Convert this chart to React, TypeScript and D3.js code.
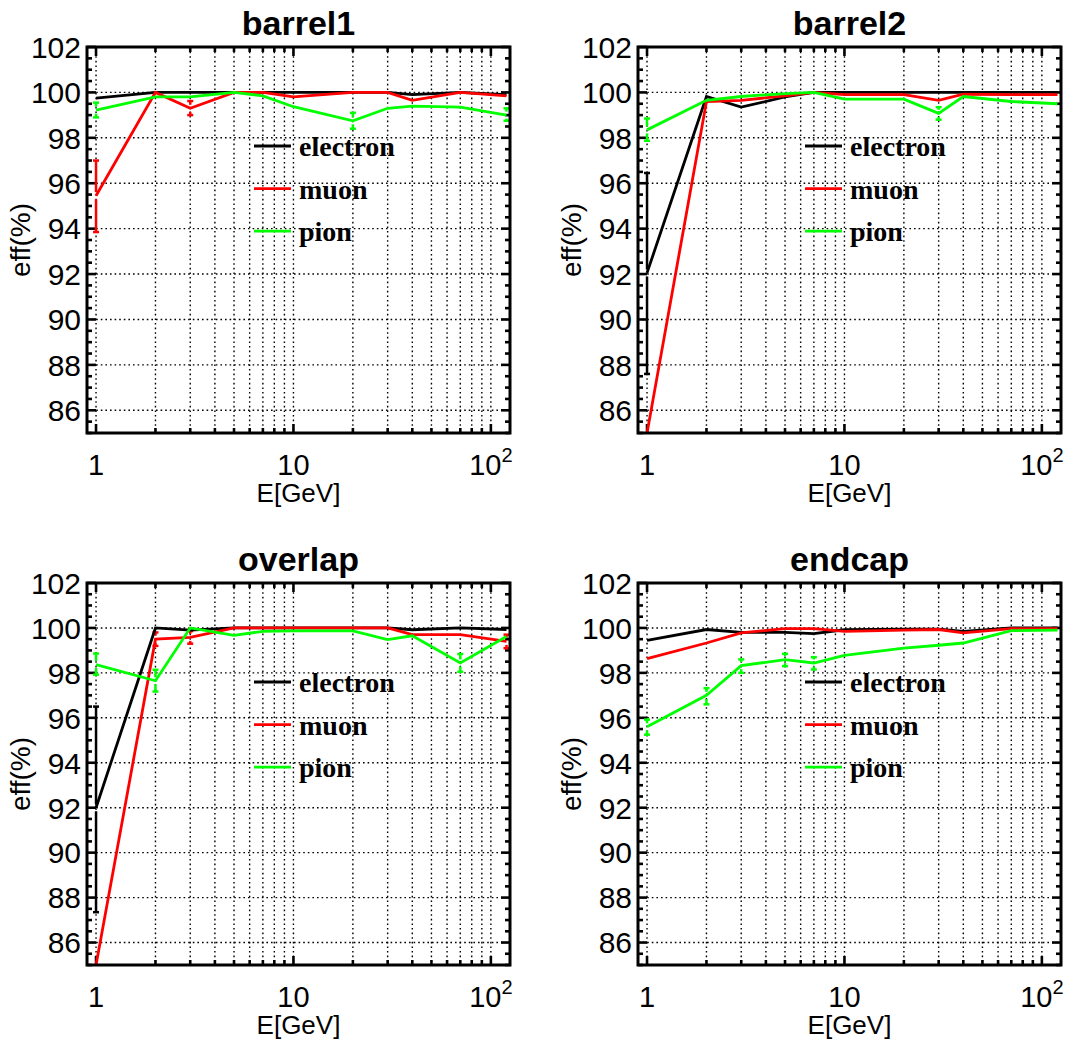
import React from 'react';
import * as d3 from 'd3';

const energies = [1, 2, 3, 5, 7, 10, 20, 30, 40, 70, 120];
const yTickValues = [86, 88, 90, 92, 94, 96, 98, 100, 102];
const xTickLabels = [
  { v: 1, base: '1', sup: '' },
  { v: 10, base: '10', sup: '' },
  { v: 100, base: '10', sup: '2' },
];
const seriesNames = ['electron', 'muon', 'pion'];
const seriesColors = ['#000000', '#ff0000', '#00ff00'];

const barrel1Electron = [99.75, 100, 100, 100, 100, 100, 100, 100, 99.9, 100, 99.9];
const barrel1Muon = [95.45, 100, 99.3, 100, 100, 99.8, 100, 100, 99.65, 100, 99.85];
const barrel1Pion = [99.22, 99.8, 99.8, 100, 99.85, 99.37, 98.75, 99.3, 99.4, 99.35, 99.0];
const barrel1Errors = [
  { s: 1, e: 1, lo: 93.85, hi: 97.0 },
  { s: 2, e: 1, lo: 98.9, hi: 99.55 },
  { s: 1, e: 3, lo: 99.0, hi: 99.62 },
  { s: 2, e: 20, lo: 98.4, hi: 99.1 },
  { s: 2, e: 120, lo: 98.75, hi: 99.3 },
];

const barrel2Electron = [92.05, 99.82, 99.35, 99.8, 100, 100, 100, 100, 100, 100, 100];
const barrel2Muon = [85.0, 99.6, 99.65, 99.85, 100, 99.9, 99.9, 99.65, 99.92, 99.9, 99.9];
const barrel2Pion = [98.35, 99.65, 99.82, 99.95, 100, 99.7, 99.7, 99.08, 99.82, 99.6, 99.5];
const barrel2Errors = [
  { s: 0, e: 1, lo: 87.6, hi: 96.45 },
  { s: 2, e: 1, lo: 97.87, hi: 98.85 },
  { s: 2, e: 30, lo: 98.8, hi: 99.35 },
];

const overlapElectron = [92.0, 100, 99.9, 100, 100, 100, 100, 100, 99.92, 100, 99.93];
const overlapMuon = [85.0, 99.5, 99.58, 100, 100, 100, 100, 100, 99.7, 99.7, 99.4];
const overlapPion = [98.37, 97.65, 100, 99.67, 99.85, 99.87, 99.87, 99.48, 99.65, 98.44, 99.62];
const overlapErrors = [
  { s: 0, e: 1, lo: 87.35, hi: 96.5 },
  { s: 2, e: 1, lo: 97.92, hi: 98.86 },
  { s: 2, e: 2, lo: 97.17, hi: 98.14 },
  { s: 1, e: 2, lo: 99.2, hi: 99.8 },
  { s: 1, e: 3, lo: 99.3, hi: 99.86 },
  { s: 2, e: 70, lo: 98.05, hi: 98.84 },
  { s: 1, e: 120, lo: 99.1, hi: 99.7 },
];

const endcapElectron = [99.45, 99.93, 99.8, 99.8, 99.75, 99.92, 99.95, 99.95, 99.85, 100, 100];
const endcapMuon = [98.63, 99.33, 99.78, 99.97, 99.97, 99.85, 99.9, 99.93, 99.78, 99.97, 99.97];
const endcapPion = [95.6, 97.0, 98.32, 98.59, 98.44, 98.78, 99.1, 99.23, 99.33, 99.88, 99.9];
const endcapErrors = [
  { s: 2, e: 1, lo: 95.25, hi: 95.92 },
  { s: 2, e: 2, lo: 96.6, hi: 97.32 },
  { s: 2, e: 3, lo: 98.0, hi: 98.6 },
  { s: 2, e: 5, lo: 98.3, hi: 98.85 },
  { s: 2, e: 7, lo: 98.15, hi: 98.7 },
];

const SANS = '"Liberation Sans", Arial, sans-serif';
const SERIF = '"Liberation Serif", "Times New Roman", serif';

type Err = { s: number; e: number; lo: number; hi: number };

function Panel(props: {
  id: string;
  title: string;
  left: number;
  top: number;
  height: number;
  series: number[][];
  errors: Err[];
}) {
  const { id, title, left, top, height, series, errors } = props;
  const width = 423;
  const x = d3.scaleLog().domain([0.9, 125]).range([left, left + width]);
  const y = d3.scaleLinear().domain([85, 102]).range([top + height, top]);
  const bottom = top + height;
  const right = left + width;
  const xGrid = x.ticks().filter((t) => t >= 1 && t <= 100);
  const isMajorX = (t: number) => t === 1 || t === 10 || t === 100;
  const yMinor = d3.range(85, 102.01, 0.5);
  const gridY = yTickValues.filter((v) => v < 102);
  const line = d3
    .line<number>()
    .x((_, i) => x(energies[i]))
    .y((d) => y(d));
  const clipId = `clip-${id}`;
  const legendX = left + 167;
  const legendY = top + 99;

  return (
    <g>
      <defs>
        <clipPath id={clipId}>
          <rect x={left} y={top} width={width} height={height} />
        </clipPath>
      </defs>
      {xGrid.map((t) => (
        <line key={`gx${t}`} x1={x(t)} x2={x(t)} y1={top} y2={bottom} stroke="#000" strokeWidth={1.4} strokeDasharray="1.6 3" />
      ))}
      {gridY.map((v) => (
        <line key={`gy${v}`} x1={left} x2={right} y1={y(v)} y2={y(v)} stroke="#000" strokeWidth={1.4} strokeDasharray="1.6 3" />
      ))}
      {xGrid.map((t) => {
        const len = isMajorX(t) ? 9 : 5;
        return (
          <g key={`tx${t}`}>
            <line x1={x(t)} x2={x(t)} y1={bottom} y2={bottom - len} stroke="#000" strokeWidth={2.6} />
            <line x1={x(t)} x2={x(t)} y1={top} y2={top + len} stroke="#000" strokeWidth={2.6} />
          </g>
        );
      })}
      {yMinor.map((v) => {
        const major = Math.abs(v % 2) < 1e-6;
        const len = major ? 9 : 5;
        return (
          <g key={`ty${v}`}>
            <line x1={left} x2={left + len} y1={y(v)} y2={y(v)} stroke="#000" strokeWidth={2.6} />
            <line x1={right} x2={right - len} y1={y(v)} y2={y(v)} stroke="#000" strokeWidth={2.6} />
          </g>
        );
      })}
      <g clipPath={`url(#${clipId})`}>
        {errors.map((er, i) => {
          const si = energies.indexOf(er.e);
          const v = series[er.s][si];
          const cx = x(er.e);
          const gap = 3.5;
          const yHi = y(er.hi);
          const yLo = y(er.lo);
          const yv = y(v);
          const col = seriesColors[er.s];
          return (
            <g key={`er${i}`} stroke={col} strokeWidth={2.5}>
              {yv - gap > yHi && <line x1={cx} x2={cx} y1={yHi} y2={yv - gap} />}
              {yv + gap < yLo && <line x1={cx} x2={cx} y1={yv + gap} y2={yLo} />}
              <line x1={cx - 3} x2={cx + 3} y1={yHi} y2={yHi} />
              <line x1={cx - 3} x2={cx + 3} y1={yLo} y2={yLo} />
            </g>
          );
        })}
        {series.map((s, i) => (
          <path key={`s${i}`} d={line(s) || ''} fill="none" stroke={seriesColors[i]} strokeWidth={2.8} strokeLinejoin="miter" />
        ))}
      </g>
      <rect x={left} y={top} width={width} height={height} fill="none" stroke="#000" strokeWidth={3} />
      {yTickValues.map((v) => (
        <text key={`yl${v}`} x={left - 6} y={y(v)} dy="0.36em" textAnchor="end" fontFamily={SANS} fontSize={30}>
          {v}
        </text>
      ))}
      {xTickLabels.map((t) => (
        <text key={`xl${t.v}`} x={x(t.v)} y={bottom + 42} textAnchor="middle" fontFamily={SANS} fontSize={29}>
          {t.base}
          {t.sup && (
            <tspan dy={-13} fontSize={20}>
              {t.sup}
            </tspan>
          )}
        </text>
      ))}
      <text x={(left + right) / 2} y={bottom + 69} textAnchor="middle" fontFamily={SANS} fontSize={26}>
        E[GeV]
      </text>
      <text
        transform={`translate(${left - 57},${(top + bottom) / 2}) rotate(-90)`}
        textAnchor="middle"
        fontFamily={SANS}
        fontSize={28}
      >
        eff(%)
      </text>
      <text x={(left + right) / 2} y={top - 12} textAnchor="middle" fontFamily={SANS} fontWeight="bold" fontSize={34}>
        {title}
      </text>
      {seriesNames.map((n, i) => {
        const ly = legendY + i * 42.6;
        return (
          <g key={`lg${n}`}>
            <line x1={legendX} x2={legendX + 37} y1={ly} y2={ly} stroke={seriesColors[i]} strokeWidth={2.8} />
            <text x={legendX + 45} y={ly + 10} fontFamily={SERIF} fontWeight="bold" fontSize={28}>
              {n}
            </text>
          </g>
        );
      })}
    </g>
  );
}

export default function App() {
  return (
    <svg
      width={1075}
      height={1041}
      style={{ position: 'absolute', left: 0, top: 0, background: '#fff' }}
    >
      <rect x={0} y={0} width={1075} height={1041} fill="#fff" />
      <Panel id="b1" title="barrel1" left={87} top={47} height={386}
        series={[barrel1Electron, barrel1Muon, barrel1Pion]} errors={barrel1Errors} />
      <Panel id="b2" title="barrel2" left={638} top={47} height={386}
        series={[barrel2Electron, barrel2Muon, barrel2Pion]} errors={barrel2Errors} />
      <Panel id="ov" title="overlap" left={87} top={583} height={382}
        series={[overlapElectron, overlapMuon, overlapPion]} errors={overlapErrors} />
      <Panel id="ec" title="endcap" left={638} top={583} height={382}
        series={[endcapElectron, endcapMuon, endcapPion]} errors={endcapErrors} />
    </svg>
  );
}
